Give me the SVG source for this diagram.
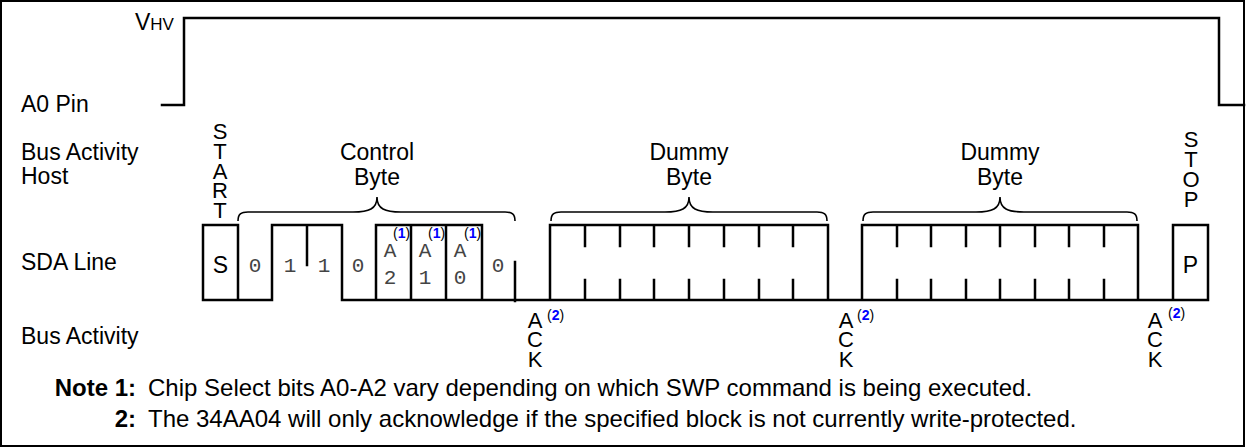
<svg xmlns="http://www.w3.org/2000/svg" width="1246" height="448" viewBox="0 0 1246 448">
<style>
.lbl{font-family:"Liberation Sans",Arial,sans-serif;font-size:23px;fill:#000}
.mid{text-anchor:middle}
.bit{font-family:"Liberation Mono","Courier New",monospace;font-size:21px;fill:#444;text-anchor:middle}
.sup{font-family:"Liberation Sans",Arial,sans-serif;font-size:14px;fill:#000}
.sup tspan.n{fill:#0000ff;font-weight:bold}
.vl{font-family:"Liberation Sans",Arial,sans-serif;font-size:22px;fill:#000;text-anchor:middle}
.note{font-family:"Liberation Sans",Arial,sans-serif;font-size:24px;fill:#000}
.b{font-weight:bold}
.w{fill:none;stroke:#000;stroke-width:2.5;stroke-linecap:square}
.br{fill:none;stroke:#000;stroke-width:1.6}
</style>
<rect x="1" y="1" width="1243" height="445" fill="#fff" stroke="#000" stroke-width="2"/>

<g id="a0pin">
<path class="w" d="M162,105 H184 V18 H1219 V105 H1244"/>
<text class="lbl" x="135" y="30">V<tspan font-size="17">HV</tspan></text>
<text class="lbl" x="21" y="112">A0 Pin</text>
</g>

<g id="labels">
<text class="lbl" x="21" y="160">Bus Activity</text>
<text class="lbl" x="21" y="184">Host</text>
<text class="lbl" x="21" y="270">SDA Line</text>
<text class="lbl" x="21" y="344">Bus Activity</text>
</g>

<g id="start">
<text class="vl" x="220" y="139">S</text>
<text class="vl" x="220" y="159">T</text>
<text class="vl" x="220" y="179">A</text>
<text class="vl" x="220" y="198">R</text>
<text class="vl" x="220" y="218">T</text>
</g>

<g id="stop">
<text class="vl" x="1191" y="147">S</text>
<text class="vl" x="1191" y="167">T</text>
<text class="vl" x="1191" y="187">O</text>
<text class="vl" x="1191" y="207">P</text>
</g>

<g id="braces">
<path class="br" d="M238,221 C238,214 241,212 248,212 H353 C369,212 377,209 377,197 C377,209 385,212 401,212 H505 C512,212 515,214 515,221"/>
<path class="br" d="M551,221 C551,214 554,212 561,212 H665 C681,212 689,209 689,197 C689,209 697,212 713,212 H817 C824,212 827,214 827,221"/>
<path class="br" d="M863,221 C863,214 866,212 873,212 H976 C992,212 1000,209 1000,197 C1000,209 1008,212 1024,212 H1127 C1134,212 1137,214 1137,221"/>
<text class="lbl mid" x="377" y="160">Control</text>
<text class="lbl mid" x="377" y="185">Byte</text>
<text class="lbl mid" x="689" y="160">Dummy</text>
<text class="lbl mid" x="689" y="185">Byte</text>
<text class="lbl mid" x="1000" y="160">Dummy</text>
<text class="lbl mid" x="1000" y="185">Byte</text>
</g>

<g id="sda">
<path class="w" d="M203,300 H272 M342,300 H1208
M203,225 H238 M272,225 H342 M376,225 H482 M550,225 H828 M862,225 H1138 M1173,225 H1208
M203,225 V300 M238,225 V300 M272,225 V300 M342,225 V300 M376,225 V300 M411,225 V300 M446,225 V300 M482,225 V300
M550,225 V300 M828,225 V300 M862,225 V300 M1138,225 V300 M1173,225 V300 M1208,225 V300
M307,225 V265 M515,262 V301
M585,225 V246 M620,225 V246 M654,225 V246 M689,225 V246 M724,225 V246 M759,225 V246 M793,225 V246
M585,280 V300 M620,280 V300 M654,280 V300 M689,280 V300 M724,280 V300 M759,280 V300 M793,280 V300
M897,225 V246 M931,225 V246 M966,225 V246 M1000,225 V246 M1035,225 V246 M1069,225 V246 M1104,225 V246
M897,280 V300 M931,280 V300 M966,280 V300 M1000,280 V300 M1035,280 V300 M1069,280 V300 M1104,280 V300"/>
<text class="lbl mid" x="220.5" y="273">S</text>
<text class="lbl mid" x="1190.5" y="273">P</text>
<text class="bit" x="255" y="272">0</text>
<text class="bit" x="290" y="272">1</text>
<text class="bit" x="324" y="272">1</text>
<text class="bit" x="358" y="272">0</text>
<text class="bit" x="390" y="257">A</text>
<text class="bit" x="390" y="284">2</text>
<text class="bit" x="425" y="257">A</text>
<text class="bit" x="425" y="284">1</text>
<text class="bit" x="460" y="257">A</text>
<text class="bit" x="460" y="284">0</text>
<text class="bit" x="498" y="272">0</text>
<text class="sup" x="393" y="238">(<tspan class="n">1</tspan>)</text>
<text class="sup" x="428" y="238">(<tspan class="n">1</tspan>)</text>
<text class="sup" x="464" y="238">(<tspan class="n">1</tspan>)</text>
</g>

<g id="acks">
<text class="vl" x="535" y="328">A</text>
<text class="vl" x="535" y="347">C</text>
<text class="vl" x="535" y="367">K</text>
<text class="sup" x="547" y="320">(<tspan class="n">2</tspan>)</text>
<text class="vl" x="846" y="328">A</text>
<text class="vl" x="846" y="347">C</text>
<text class="vl" x="846" y="367">K</text>
<text class="sup" x="857" y="320">(<tspan class="n">2</tspan>)</text>
<text class="vl" x="1155" y="328">A</text>
<text class="vl" x="1155" y="347">C</text>
<text class="vl" x="1155" y="367">K</text>
<text class="sup" x="1168" y="318">(<tspan class="n">2</tspan>)</text>
</g>

<g id="notes">
<text class="note b" x="136" y="396" text-anchor="end">Note 1:</text>
<text class="note" x="148" y="396">Chip Select bits A0-A2 vary depending on which SWP command is being executed.</text>
<text class="note b" x="136" y="427" text-anchor="end">2:</text>
<text class="note" x="148" y="427">The 34AA04 will only acknowledge if the specified block is not currently write-protected.</text>
</g>
</svg>
